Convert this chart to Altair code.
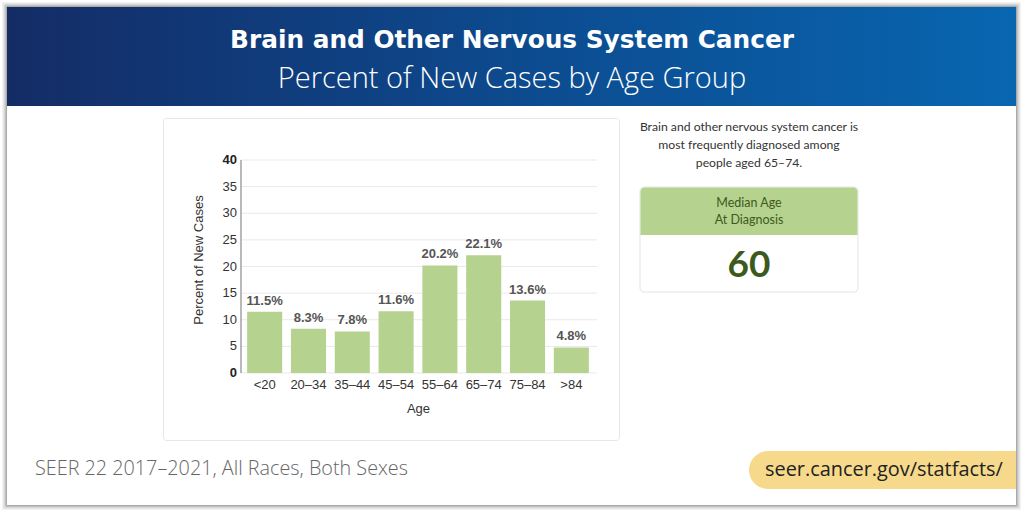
import altair as alt
import pandas as pd

# ---- data ----
age_groups = ["<20", "20\u201334", "35\u201344", "45\u201354", "55\u201364", "65\u201374", "75\u201384", ">84"]
percent_new_cases = [11.5, 8.3, 7.8, 11.6, 20.2, 22.1, 13.6, 4.8]
y_ticks = [0, 5, 10, 15, 20, 25, 30, 35, 40]

title_text = "Brain and Other Nervous System Cancer"
subtitle_text = "Percent of New Cases by Age Group"
y_title = "Percent of New Cases"
note_lines = ["Brain and other nervous system cancer is",
              "most frequently diagnosed among",
              "people aged 65\u201374."]
median_label = ["Median Age", "At Diagnosis"]
median_value = "60"
source_text = "SEER 22 2017\u20132021, All Races, Both Sexes"
url_text = "seer.cancer.gov/statfacts/"

df = pd.DataFrame({"age": age_groups, "pct": percent_new_cases})
df["label"] = [f"{v:.1f}%" for v in percent_new_cases]
ticks_df = pd.DataFrame({"pct": y_ticks})

# plot-area origin on the page
OX, OY = 241, 160
PW, PH = 354, 213


def px(x):
    return x - OX


def py(y):
    return y - OY


one = alt.Data(values=[{"k": 1}])


def rect(x1, y1, x2, y2, **kw):
    return alt.Chart(one).mark_rect(**kw).encode(
        x=alt.value(px(x1)), x2=alt.value(px(x2)),
        y=alt.value(py(y1)), y2=alt.value(py(y2)))


def text(t, x, y, **kw):
    return alt.Chart(alt.Data(values=[{"t": t}])).mark_text(**kw).encode(
        x=alt.value(px(x)), y=alt.value(py(y)), text="t:N")


layers = []

# frame shadow (stroke-only rects, do not cover anything)
shadow_cols = ["#a9a9a9", "#c2c2c2", "#d6d6d6", "#e6e6e6", "#f2f2f2"]
for i, c in enumerate(shadow_cols):
    o = i + 0.5
    layers.append(rect(7 - o, 7 - o, 1016 + o, 505 + o, fill=None, filled=False,
                       stroke=c, strokeWidth=1))

# header band with gradient
grad = alt.Gradient(gradient="linear",
                    stops=[alt.GradientStop(color="#142c66", offset=0),
                           alt.GradientStop(color="#0c4d92", offset=0.55),
                           alt.GradientStop(color="#0866b0", offset=1)],
                    x1=0, x2=1, y1=0, y2=0)
layers.append(rect(7, 7, 1016, 106, color=grad))
layers.append(text(title_text, 512, 41, font="DejaVu Sans", fontSize=24.8,
                   fontWeight="bold", color="white", align="center", baseline="middle"))
layers.append(text(subtitle_text, 512, 79, font="Open Sans", fontSize=29,
                   fontWeight=300, color="white", align="center", baseline="middle"))

# chart card outline
layers.append(rect(163.5, 118.5, 619.5, 440.5, filled=False, fill=None,
                   stroke="#e6e6e6", strokeWidth=1, cornerRadius=3))

# right-hand note
for i, line in enumerate(note_lines):
    layers.append(text(line, 749, 127 + 18 * i, font="Lato", fontSize=12.2,
                       color="#333333", align="center", baseline="middle"))

# median box
layers.append(rect(640, 187, 858, 292, color="white", stroke="#e3e3e3",
                   strokeWidth=1, cornerRadius=4))
layers.append(rect(640.5, 187.5, 857.5, 235, color="#b5d28e",
                   cornerRadiusTopLeft=4, cornerRadiusTopRight=4))
for i, line in enumerate(median_label):
    layers.append(text(line, 749, 203 + 17 * i, font="Lato", fontSize=12.5,
                       color="#3e5a20", align="center", baseline="middle"))
layers.append(text(median_value, 749, 266, font="Lato", fontSize=37,
                   fontWeight="bold", color="#3b5a1c", align="center", baseline="middle"))

# footer
layers.append(text(source_text, 35, 469, font="Open Sans", fontSize=19.8,
                   fontWeight=300, color="#666666", align="left", baseline="middle"))
layers.append(rect(749, 451, 1016, 489, color="#f6d98a",
                   cornerRadiusTopLeft=19, cornerRadiusBottomLeft=19))
layers.append(text(url_text, 765, 470, font="Open Sans", fontSize=19.9,
                   color="#222222", align="left", baseline="middle"))

# ---- the bar chart ----
yscale = alt.Scale(domain=[0, 40], nice=False)
xenc = alt.X("age:N", sort=age_groups, title="Age",
             scale=alt.Scale(paddingInner=0.2, paddingOuter=0.14),
             axis=alt.Axis(labelAngle=0, labelFont="Liberation Sans", labelFontSize=13,
                           labelColor="#333333", labelPadding=5, ticks=False,
                           domain=False, titleFont="Liberation Sans", titleFontSize=13,
                           titleFontWeight="normal", titleColor="#333333", titlePadding=11))
yenc = alt.Y("pct:Q", scale=yscale, axis=None)

tick_base = alt.Chart(ticks_df)
grid = tick_base.mark_rule(color="#e9e9e9", strokeWidth=1).encode(
    y=yenc, x=alt.value(0), x2=alt.value(PW + 2))
tick_labels_norm = tick_base.transform_filter("datum.pct != 0 && datum.pct != 40").mark_text(
    font="Liberation Sans", fontSize=13, color="#333333", align="right", baseline="middle").encode(
    y=yenc, x=alt.value(-4), text=alt.Text("pct:Q", format="d"))
tick_labels_bold = tick_base.transform_filter("datum.pct == 0 || datum.pct == 40").mark_text(
    font="Liberation Sans", fontSize=13, fontWeight="bold", color="#222222", align="right",
    baseline="middle").encode(
    y=yenc, x=alt.value(-4), text=alt.Text("pct:Q", format="d"))

# y axis line and title
y_domain = alt.Chart(one).mark_rule(color="#8a8a8a", strokeWidth=1.2).encode(
    x=alt.value(0), y=alt.value(0), y2=alt.value(PH))
y_title_layer = text(y_title, 199, 260, font="Liberation Sans", fontSize=13, angle=270,
                     color="#333333", align="center", baseline="middle")

base = alt.Chart(df)
bars = base.mark_bar(color="#b5d38e").encode(x=xenc, y=yenc)
labels = base.mark_text(font="Liberation Sans", fontSize=13, fontWeight="bold",
                        color="#555555", baseline="bottom", dy=-4).encode(
    x=xenc, y=yenc, text="label:N")

layers += [grid, bars, labels, tick_labels_norm, tick_labels_bold, y_domain, y_title_layer]

chart = alt.layer(*layers).properties(
    width=PW, height=PH,
    autosize=alt.AutoSizeParams(type="none"),
    padding={"left": OX, "top": OY, "right": 1024 - OX - PW, "bottom": 512 - OY - PH},
    background="white",
).configure_view(stroke=None)

chart.save("out.html", embed_options={"renderer": "svg", "actions": False})
